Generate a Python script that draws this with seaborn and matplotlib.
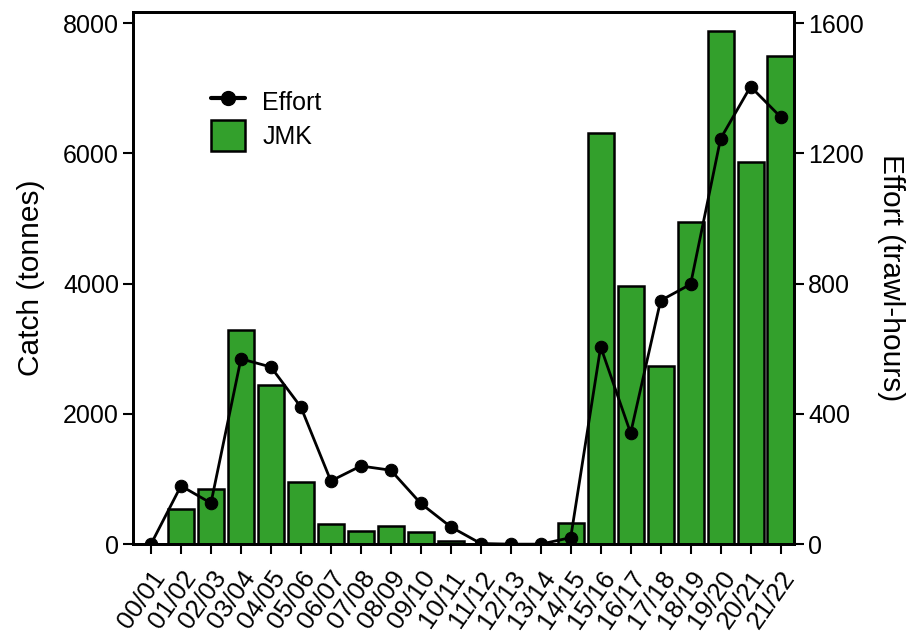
import numpy as np
import matplotlib
matplotlib.use("Agg")
import matplotlib.pyplot as plt
import seaborn as sns
from matplotlib.patches import Patch
from matplotlib.lines import Line2D

seasons = ["00/01", "01/02", "02/03", "03/04", "04/05", "05/06", "06/07", "07/08",
           "08/09", "09/10", "10/11", "11/12", "12/13", "13/14", "14/15", "15/16",
           "16/17", "17/18", "18/19", "19/20", "20/21", "21/22"]
catch = [0, 535, 840, 3295, 2440, 955, 313, 200, 275, 190, 55, 5, 0, 0,
         318, 6315, 3965, 2740, 4945, 7880, 5860, 7488]
effort = [0, 179, 126, 569, 544, 421, 194, 240, 227, 125, 53, 2, 0, 0,
          20, 606, 341, 748, 798, 1245, 1405, 1312]

green = "#33a02c"

sns.set_style("ticks", rc={"text.color": "black", "axes.labelcolor": "black",
                           "xtick.color": "black", "ytick.color": "black",
                           "axes.edgecolor": "black"})
plt.rcParams['font.family'] = ['Liberation Sans', 'DejaVu Sans']

fig = plt.figure(figsize=(9.11, 6.32), dpi=100)
ax = fig.add_axes([0.146, 0.139, 0.7256, 0.842])

sns.barplot(x=seasons, y=catch, color=green, edgecolor="black", linewidth=1.8,
            width=0.87, saturation=1, ax=ax)
ax.set_xlim(-0.6, 21.45)
ax.set_ylim(0, 8170)
ax.set_yticks([0, 2000, 4000, 6000, 8000])
ax.set_ylabel("Catch (tonnes)", fontsize=21.5, labelpad=13)
ax.set_xlabel("")
ax.tick_params(axis="y", labelsize=18, length=7, width=1.5, direction="out", pad=3)
ax.tick_params(axis="x", labelsize=18.5, length=7, width=1.5, direction="out", pad=9)
plt.setp(ax.get_xticklabels(), rotation=55, ha="right", va="top",
         rotation_mode="anchor")

ax2 = ax.twinx()
sns.lineplot(x=np.arange(len(seasons)), y=effort, ax=ax2, color="black",
             marker="o", markersize=9, linewidth=2, markeredgecolor="black")
ax2.set_ylim(0, 1634)
ax2.set_yticks([0, 400, 800, 1200, 1600])
ax2.set_ylabel("Effort (trawl-hours)", fontsize=21.5, rotation=270, labelpad=30)
ax2.tick_params(axis="y", labelsize=18, length=7, width=1.5, direction="out", pad=3)

for a in (ax, ax2):
    for s in a.spines.values():
        s.set_visible(True)
        s.set_linewidth(2)
        s.set_color("black")

handles = [Line2D([], [], color="black", marker="o", markersize=10, linewidth=3),
           Patch(facecolor=green, edgecolor="black", linewidth=1.8)]
ax2.legend(handles, ["Effort", "JMK"], loc="upper left",
           bbox_to_anchor=(211 / 911, 1 - 86 / 632), bbox_transform=fig.transFigure,
           frameon=False, fontsize=18, handlelength=1.35, handleheight=1.5,
           labelspacing=0.15, handletextpad=0.7, borderpad=0, borderaxespad=0)

fig.savefig("out.png", dpi=100)
